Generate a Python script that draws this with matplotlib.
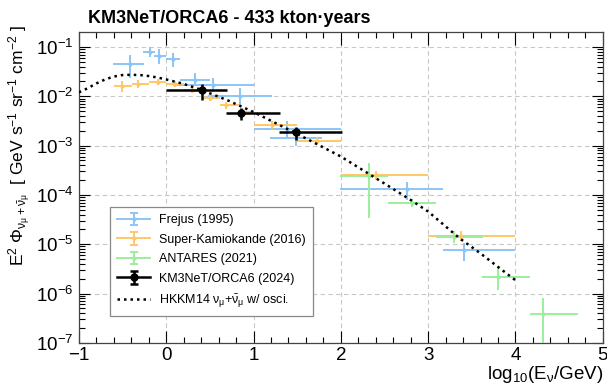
import matplotlib
matplotlib.use("Agg")
import matplotlib.pyplot as plt
import numpy as np
from matplotlib.ticker import LogLocator, MultipleLocator, NullFormatter

# ROOT-ish look
plt.rcParams['font.family'] = ['Liberation Sans', 'DejaVu Sans']
plt.rcParams['mathtext.fontset'] = 'custom'
plt.rcParams['mathtext.rm'] = 'Liberation Sans'
plt.rcParams['mathtext.it'] = 'Liberation Sans'
plt.rcParams['mathtext.bf'] = 'Liberation Sans:bold'

# Data. x = log10(E/GeV), y = E^2 Phi
# Frejus (1995)
frejus_x = [-0.42, -0.19, -0.08, 0.08, 0.33, 0.54, 0.85, 1.38, 1.49, 2.76, 3.41]
frejus_xlo = [-0.61, -0.27, -0.145, 0.0, 0.16, 0.08, 0.48, 1.0, 1.19, 1.99, 3.17]
frejus_xhi = [-0.25, -0.13, 0.0, 0.16, 0.50, 1.0, 1.21, 2.0, 1.78, 3.17, 4.0]
frejus_y = [0.0452, 0.0804, 0.0661, 0.0562, 0.0214, 0.0170, 0.0102, 0.00219, 0.00145, 1.32e-4, 7.6e-6]
frejus_ylo = [0.0232, 0.0617, 0.0452, 0.0398, 0.0170, 0.0123, 0.0066, 0.00145, 0.0010, 7.9e-5, 4.5e-6]
frejus_yhi = [0.0692, 0.0986, 0.0898, 0.0745, 0.0295, 0.0234, 0.0148, 0.00316, 0.00209, 1.86e-4, 1.07e-5]

# Super-Kamiokande (2016)
sk_x = [-0.51, -0.32, -0.09, 0.10, 0.30, 0.50, 0.69, 0.88, 1.21, 1.73, 2.40, 3.38]
sk_xlo = [-0.60, -0.39, -0.20, 0.0, 0.20, 0.41, 0.62, 0.84, 1.0, 1.5, 2.0, 3.0]
sk_xhi = [-0.39, -0.20, 0.0, 0.20, 0.41, 0.62, 0.84, 1.0, 1.5, 2.0, 3.0, 4.0]
sk_y = [0.0162, 0.0178, 0.0191, 0.0178, 0.0135, 0.00933, 0.00661, 0.00479, 0.00257, 0.00123, 2.51e-4, 1.48e-5]
sk_ylo = [0.0123, 0.0145, 0.0166, 0.0155, 0.0117, 0.00794, 0.00562, 0.00407, 0.00214, 0.00102, 2.04e-4, 1.17e-5]
sk_yhi = [0.0200, 0.0209, 0.0219, 0.0204, 0.0155, 0.0110, 0.00776, 0.00562, 0.00309, 0.00148, 3.09e-4, 1.86e-5]

# ANTARES (2021)
ant_x = [2.32, 2.82, 3.30, 3.80, 4.31]
ant_xlo = [1.99, 2.54, 3.09, 3.62, 4.17]
ant_xhi = [2.54, 3.09, 3.63, 4.17, 4.72]
ant_y = [2.45e-4, 6.9e-5, 1.41e-5, 2.19e-6, 3.8e-7]
ant_ylo = [3.47e-5, 5.75e-5, 1.07e-5, 1.17e-6, 5e-8]
ant_yhi = [4.47e-4, 8.3e-5, 1.82e-5, 3.55e-6, 8.1e-7]

# KM3NeT/ORCA6 (2024)
orca_x = [0.41, 0.86, 1.49]
orca_xlo = [0.0, 0.69, 1.29]
orca_xhi = [0.70, 1.30, 2.01]
orca_y = [0.0132, 0.00447, 0.00186]
orca_ylo = [0.0085, 0.00331, 0.00129]
orca_yhi = [0.0178, 0.00589, 0.0024]

# HKKM14 nu_mu + nubar_mu with oscillations
hkkm_x = [-1.0, -0.9, -0.8, -0.7, -0.6, -0.5, -0.4, -0.3, -0.2, -0.1, 0.0, 0.2, 0.4,
          0.7, 1.0, 1.35, 1.65, 2.0, 2.5, 2.8, 3.0, 3.36, 3.6, 4.0]
hkkm_y = [0.0120, 0.0145, 0.0182, 0.0219, 0.0251, 0.0269, 0.0272, 0.0269, 0.0257, 0.0240,
          0.0219, 0.0178, 0.0135, 0.00832, 0.00479, 0.00234, 0.00126, 6.0e-4, 1.70e-4,
          7.9e-5, 4.6e-5, 1.32e-5, 6.5e-6, 1.86e-6]

COL_FREJUS = '#8cc5f5'
COL_SK = '#ffc766'
COL_ANT = '#9bee9b'


def errs(x, xlo, xhi, y, ylo, yhi):
    # bounds -> asymmetric error arrays
    x, xlo, xhi = np.array(x), np.array(xlo), np.array(xhi)
    y, ylo, yhi = np.array(y), np.array(ylo), np.array(yhi)
    return [x - xlo, xhi - x], [y - ylo, yhi - y]


def draw_set(ax, x, xlo, xhi, y, ylo, yhi, color, lw, ms, marker):
    xerr, yerr = errs(x, xlo, xhi, y, ylo, yhi)
    ax.errorbar(x, y, xerr=xerr, yerr=yerr, fmt=marker, color=color, ms=ms,
                elinewidth=lw, capsize=0, zorder=3 if color != 'black' else 5)
    # invisible copy for the legend: full-width line + vertical bar with caps
    return ax.errorbar([np.nan], [np.nan], yerr=[[0.1], [0.1]],
                       fmt='-' + marker, color=color, ms=ms, lw=lw,
                       elinewidth=lw, capsize=3, capthick=lw)


fig = plt.figure(figsize=(6.07, 3.87), dpi=100)
ax = fig.add_axes([0.130, 0.114, 0.863, 0.803])

h1 = draw_set(ax, frejus_x, frejus_xlo, frejus_xhi, frejus_y, frejus_ylo, frejus_yhi,
              COL_FREJUS, 1.4, 2, 'o')
h2 = draw_set(ax, sk_x, sk_xlo, sk_xhi, sk_y, sk_ylo, sk_yhi, COL_SK, 1.4, 2, 'o')
h3 = draw_set(ax, ant_x, ant_xlo, ant_xhi, ant_y, ant_ylo, ant_yhi, COL_ANT, 1.4, 2, 'o')
h4 = draw_set(ax, orca_x, orca_xlo, orca_xhi, orca_y, orca_ylo, orca_yhi, 'black', 1.8, 5, 'o')
h5, = ax.plot(hkkm_x, hkkm_y, color='black', ls=(0, (1, 1.6)), lw=1.8, zorder=4)

ax.set_yscale('log')
ax.set_xlim(-1, 5)
ax.set_ylim(1e-7, 10 ** -0.7)

ax.xaxis.set_major_locator(MultipleLocator(1))
ax.xaxis.set_minor_locator(MultipleLocator(0.2))
ax.yaxis.set_major_locator(LogLocator(base=10, numticks=20))
ax.yaxis.set_minor_locator(LogLocator(base=10, subs=np.arange(2, 10), numticks=20))
ax.yaxis.set_minor_formatter(NullFormatter())

ax.tick_params(which='both', direction='in', top=True, right=True, labelsize=13.5, width=0.8)
ax.tick_params(axis='x', which='major', length=9, pad=3)
ax.tick_params(axis='x', which='minor', length=4.5)
ax.tick_params(axis='y', which='major', length=8, pad=4)
ax.tick_params(axis='y', which='minor', length=4)
for s in ax.spines.values():
    s.set_linewidth(0.9)
    s.set_color('#444444')

ax.grid(True, which='major', color='#c8c8c8', ls=(0, (4, 3)), lw=0.8)
ax.set_axisbelow(True)

ax.set_xlabel(r'log$_{10}$(E$_{\nu}$/GeV)', fontsize=13.5, loc='right', labelpad=0)
fig.text(0.034, 1 - 25 / 387,
         r'E$^{2}$ $\Phi_{\nu_{\mu}+\bar{\nu}_{\mu}}$  [ GeV s$^{-1}$ sr$^{-1}$ cm$^{-2}$ ]',
         rotation=90, ha='center', va='top', fontsize=12.5)
fig.text(0.145, 0.952, 'KM3NeT/ORCA6 - 433 kton\u00b7years', fontsize=13,
         fontweight='bold', ha='left', va='center')

leg = ax.legend([h1, h2, h3, h4, h5],
                ['Frejus (1995)', 'Super-Kamiokande (2016)', 'ANTARES (2021)',
                 'KM3NeT/ORCA6 (2024)', r'HKKM14 $\nu_{\mu}$+$\bar{\nu}_{\mu}$ w/ osci.'],
                loc='lower left', bbox_to_anchor=(0.059, 0.085), fontsize=9,
                frameon=True, fancybox=False, edgecolor='#888888', framealpha=1,
                handlelength=2.7, handletextpad=0.7, labelspacing=0.6,
                borderpad=0.55, borderaxespad=0)
leg.get_frame().set_linewidth(0.9)

fig.savefig('out.png', dpi=100)
